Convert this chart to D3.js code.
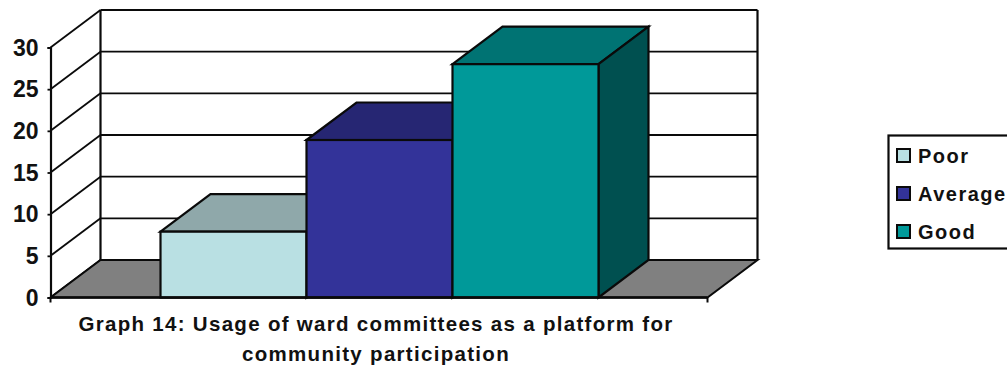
<!DOCTYPE html>
<html>
<head>
<meta charset="utf-8">
<script src="https://cdn.jsdelivr.net/npm/d3@7"></script>
<style>
  html, body { margin: 0; padding: 0; background: #fff; }
  svg { display: block; }
  text { font-family: "Liberation Sans", Arial, sans-serif; font-weight: bold; fill: #111; }
</style>
</head>
<body>
<svg id="chart" width="1007" height="367"></svg>
<script>
// Ratings of ward committees as a platform for participation
const categories = ["Poor", "Average", "Good"];
const values = [7.9, 18.9, 28];
const yTicks = [0, 5, 10, 15, 20, 25, 30];
const titleLines = [
  "Graph 14: Usage of ward committees as a platform for",
  "community participation"
];
const frontColors = ["#B9E0E3", "#333399", "#009999"];
const topColors = ["#8FA8AA", "#262673", "#007373"];
const sideColors = ["#6F8C8E", "#1A1A5C", "#005050"];

const svg = d3.select("#chart");
const ink = "#0a0a0a";

// Oblique projection: the depth of the box moves each point up and to the right
const depthX = 50, depthY = 37.5;
const axisLeft = 50.5, axisRight = 707.5;

const y = d3.scaleLinear().domain([0, 30]).range([297.5, 47.5]);
const x = d3.scaleBand().domain(categories).range([160.5, 598.5]);

const poly = pts => {
  const p = d3.path();
  pts.forEach(([a, b], i) => i ? p.lineTo(a, b) : p.moveTo(a, b));
  p.closePath();
  return p.toString();
};

const base = y(0), top30 = y(30);

// Back wall
svg.append("rect")
  .attr("x", axisLeft + depthX).attr("y", top30 - depthY)
  .attr("width", axisRight - axisLeft).attr("height", base - top30)
  .attr("fill", "#fff").attr("stroke", "none");

// Gridlines run along the back wall and down the left wall
const grid = svg.append("g").attr("fill", "none").attr("stroke", ink);
grid.selectAll("line.back").data(yTicks).join("line")
  .attr("class", "back")
  .attr("x1", axisLeft + depthX).attr("x2", axisRight + depthX)
  .attr("y1", d => y(d) - depthY).attr("y2", d => y(d) - depthY)
  .attr("stroke-width", d => (d === 0 || d === 30) ? 2.2 : 1.8);
grid.selectAll("line.wall").data(yTicks).join("line")
  .attr("class", "wall")
  .attr("x1", axisLeft).attr("x2", axisLeft + depthX)
  .attr("y1", d => y(d)).attr("y2", d => y(d) - depthY)
  .attr("stroke-width", 1.8);
[axisLeft + depthX, axisRight + depthX].forEach(px => grid.append("line")
  .attr("x1", px).attr("x2", px)
  .attr("y1", top30 - depthY).attr("y2", base - depthY).attr("stroke-width", 2.2));

// Floor
svg.append("path")
  .attr("d", poly([[axisLeft + depthX, base - depthY], [axisRight + depthX, base - depthY],
                   [axisRight, base], [axisLeft, base]]))
  .attr("fill", "#808080").attr("stroke", ink).attr("stroke-width", 2);

// Bars: top, right side, then front face, left to right
const bars = svg.append("g").attr("stroke", ink).attr("stroke-width", 2.2).attr("stroke-linejoin", "miter");
categories.forEach((c, i) => {
  const x0 = x(c), x1 = x0 + x.bandwidth(), yt = y(values[i]);
  bars.append("path").attr("fill", topColors[i])
    .attr("d", poly([[x0, yt], [x0 + depthX, yt - depthY], [x1 + depthX, yt - depthY], [x1, yt]]));
  bars.append("path").attr("fill", sideColors[i])
    .attr("d", poly([[x1, yt], [x1 + depthX, yt - depthY], [x1 + depthX, base - depthY], [x1, base]]));
  bars.append("rect").attr("fill", frontColors[i])
    .attr("x", x0).attr("y", yt).attr("width", x.bandwidth()).attr("height", base - yt);
});

// Value axis with the front baseline
const axis = d3.axisLeft(y).tickValues(yTicks).tickSize(3).tickPadding(9);
const axisG = svg.append("g").attr("transform", `translate(${axisLeft},0)`).call(axis);
axisG.select(".domain").attr("stroke", ink).attr("stroke-width", 2.2);
axisG.selectAll(".tick line").attr("stroke", ink).attr("stroke-width", 1.8);
axisG.selectAll("text")
  .style("font-family", '"Liberation Sans", Arial, sans-serif')
  .style("font-weight", "bold").style("font-size", "23px")
  .attr("fill", "#111").attr("dy", "0.34em");

const baseAxis = svg.append("g").attr("stroke", ink);
baseAxis.append("line").attr("x1", axisLeft).attr("x2", axisRight)
  .attr("y1", base).attr("y2", base).attr("stroke-width", 2.4);
[axisLeft, axisRight].forEach(px => baseAxis.append("line")
  .attr("x1", px).attr("x2", px).attr("y1", base).attr("y2", base + 5).attr("stroke-width", 2));

// Caption under the plot
svg.selectAll("text.caption").data(titleLines).join("text")
  .attr("class", "caption")
  .attr("x", 376).attr("y", (d, i) => 331 + i * 29.5)
  .attr("text-anchor", "middle")
  .attr("font-size", 20.5)
  .attr("letter-spacing", 1.3)
  .text(d => d);

// Legend box runs off the right edge
const legend = svg.append("g");
legend.append("rect").attr("x", 888.5).attr("y", 135.5)
  .attr("width", 130).attr("height", 113)
  .attr("fill", "#fff").attr("stroke", ink).attr("stroke-width", 2.2);
const rowY = d3.scalePoint().domain(categories).range([155.5, 231.5]);
categories.forEach((c, i) => {
  legend.append("rect").attr("x", 897).attr("y", rowY(c) - 6.5)
    .attr("width", 13).attr("height", 13)
    .attr("fill", frontColors[i]).attr("stroke", ink).attr("stroke-width", 2);
  legend.append("text").attr("x", 918).attr("y", rowY(c) + 7)
    .attr("font-size", 20).attr("letter-spacing", 1.5).text(c);
});
</script>
</body>
</html>
